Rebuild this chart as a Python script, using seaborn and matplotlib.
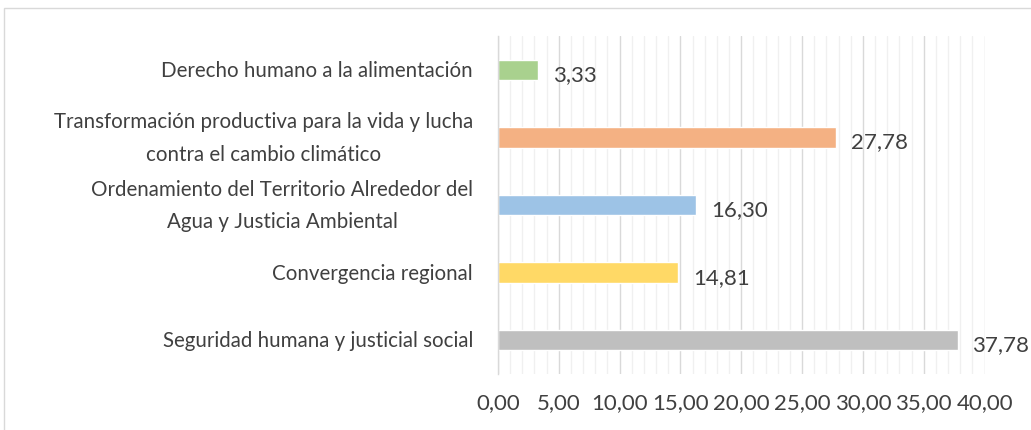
import numpy as np
import pandas as pd
import matplotlib.pyplot as plt
from matplotlib.ticker import MultipleLocator, FuncFormatter, FixedLocator
import seaborn as sns

# data
categorias = [
    "Derecho humano a la alimentación",
    "Transformación productiva para la vida y lucha\ncontra el cambio climático",
    "Ordenamiento del Territorio Alrededor del\nAgua y Justicia Ambiental",
    "Convergencia regional",
    "Seguridad humana y justicial social",
]
valores = [3.33, 27.78, 16.30, 14.81, 37.78]
colores = ["#A9D18E", "#F4B183", "#9DC3E6", "#FFD966", "#BFBFBF"]

df = pd.DataFrame({"cat": categorias, "val": valores})

sns.set_theme(style="white")
plt.rcParams["font.family"] = ["Lato", "DejaVu Sans"]

fig = plt.figure(figsize=(10.31, 4.31), dpi=100)
ax = fig.add_axes([0.483, 0.130, 0.472, 0.784])

sns.barplot(data=df, x="val", y="cat", hue="cat", palette=colores,
            orient="h", width=0.3, legend=False, ax=ax, saturation=1)

ax.set_xlim(0, 40)
ax.set_ylim(4.5, -0.5)
ax.xaxis.set_major_locator(MultipleLocator(5))
ax.xaxis.set_minor_locator(MultipleLocator(1))
ax.xaxis.set_major_formatter(FuncFormatter(lambda v, p: f"{v:.2f}".replace(".", ",")))
ax.grid(axis="x", which="major", color="#D9D9D9", lw=1)
ax.grid(axis="x", which="minor", color="#F0F0F0", lw=1)
ax.set_axisbelow(True)

for s in ["top", "right", "bottom"]:
    ax.spines[s].set_visible(False)
ax.spines["left"].set_color("#D9D9D9")
ax.spines["left"].set_linewidth(1)

ax.tick_params(axis="x", which="both", length=0, labelsize=16, labelcolor="#404040", pad=13)
ax.tick_params(axis="y", which="major", length=0, labelsize=14.8, labelcolor="#404040", pad=18)
ax.yaxis.set_minor_locator(FixedLocator(np.arange(-0.5, 5, 1)))
ax.tick_params(axis="y", which="minor", length=5, color="#D9D9D9", width=1)
for t in ax.get_yticklabels():
    t.set_multialignment("center")
    t.set_verticalalignment("center")
    t.set_linespacing(1.8)

ax.set_xlabel("")
ax.set_ylabel("")

for i, v in enumerate(valores):
    ax.text(v + 1.2, i + 0.06, f"{v:.2f}".replace(".", ","), va="center", ha="left",
            fontsize=16, color="#404040")

# outer chart border
fig.patches.append(plt.Rectangle((0.004, -0.01), 1.02, 0.99, transform=fig.transFigure,
                                 fill=False, edgecolor="#D9D9D9", lw=1))

fig.savefig("out.png", dpi=100)
